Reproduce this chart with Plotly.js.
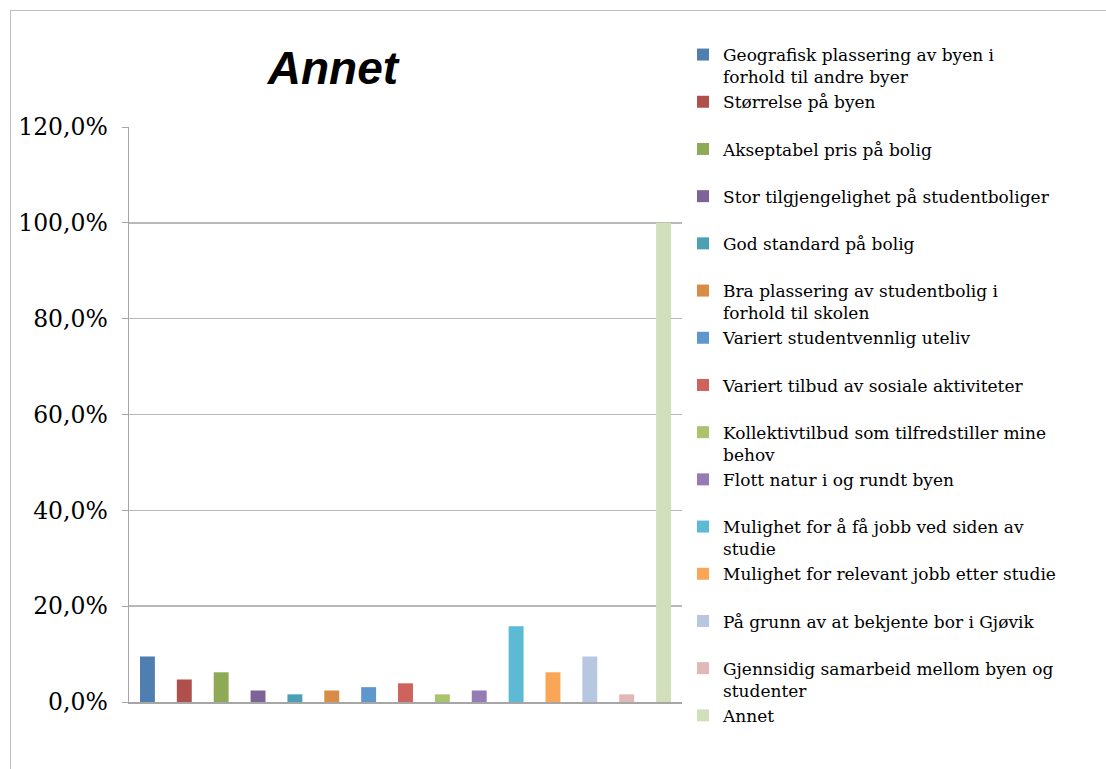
<!DOCTYPE html>
<html>
<head>
<meta charset="utf-8">
<script src="https://cdn.plot.ly/plotly-3.0.1.min.js"></script>
<style>
  html, body { margin: 0; padding: 0; background: #ffffff; }
  #chart { width: 1106px; height: 769px; position: relative; }
  #frame { position: absolute; left: 10px; top: 10px; width: 1200px; height: 800px;
           border-top: 1px solid #BFBFBF; border-left: 1px solid #BFBFBF; pointer-events: none; }
</style>
</head>
<body>
<div id="chart"></div>
<div id="frame"></div>
<script>
const chartTitle = "Annet";
const categories = [
  "Geografisk plassering av byen i<br>forhold til andre byer",
  "Størrelse på byen",
  "Akseptabel pris på bolig",
  "Stor tilgjengelighet på studentboliger",
  "God standard på bolig",
  "Bra plassering av studentbolig i<br>forhold til skolen",
  "Variert studentvennlig uteliv",
  "Variert tilbud av sosiale aktiviteter",
  "Kollektivtilbud som tilfredstiller mine<br>behov",
  "Flott natur i og rundt byen",
  "Mulighet for å få jobb ved siden av<br>studie",
  "Mulighet for relevant jobb etter studie",
  "På grunn av at bekjente bor i Gjøvik",
  "Gjennsidig samarbeid mellom byen og<br>studenter",
  "Annet"
];
const values = [9.5, 4.7, 6.2, 2.4, 1.6, 2.4, 3.1, 3.9, 1.6, 2.4, 15.8, 6.2, 9.5, 1.6, 100.0];
const colors = ["#4F7FB0", "#B0504C", "#8FAA56", "#7D6397", "#4BA0B6", "#D98C45", "#5E97CE",
                "#CE625D", "#A9C46C", "#967CB4", "#5CBAD4", "#F9A656", "#B8C7E1", "#E0B8B7", "#D1DFBA"];
const yTicks = [0, 20, 40, 60, 80, 100, 120];
const yTickText = ["0,0%", "20,0%", "40,0%", "60,0%", "80,0%", "100,0%", "120,0%"];

const traces = categories.map((name, i) => ({
  type: "bar",
  x: ["Annet"],
  y: [values[i]],
  name: name.indexOf("<br>") >= 0 ? name : name + "<br>&nbsp;",
  marker: { color: colors[i] },
  hoverinfo: "y+name"
}));

const layout = {
  width: 1106,
  height: 769,
  margin: { l: 129, r: 424, t: 127, b: 67 },
  paper_bgcolor: "#ffffff",
  plot_bgcolor: "#ffffff",
  barmode: "group",
  bargap: 0,
  bargroupgap: 0.595,
  title: {
    text: "<b><i>" + chartTitle + "</i></b>",
    font: { family: "Liberation Sans, Arial, sans-serif", size: 46, color: "#000000" },
    x: 0.301, xanchor: "center", xref: "container",
    y: 0.912, yanchor: "middle", yref: "container"
  },
  xaxis: {
    showticklabels: false,
    showline: true, linecolor: "#A6A6A6", linewidth: 2,
    ticks: "", showgrid: false, zeroline: false
  },
  yaxis: {
    range: [0, 120],
    tickmode: "array",
    tickvals: yTicks,
    ticktext: yTickText,
    showline: true, linecolor: "#A6A6A6", linewidth: 1.5,
    ticks: "outside", ticklen: 6, tickcolor: "#A6A6A6",
    ticklabelstandoff: 9,
    showgrid: true, gridcolor: "#B8B8B8", gridwidth: 1.5,
    zeroline: false,
    tickfont: { family: "DejaVu Serif, serif", size: 23.5, color: "#000000" }
  },
  showlegend: true,
  legend: {
    x: 1.0018, xanchor: "left", xref: "paper",
    y: 1.1565, yanchor: "top", yref: "paper",
    valign: "top",
    maxheight: 760,
    font: { family: "DejaVu Serif, serif", size: 17, color: "#000000" },
    bgcolor: "rgba(0,0,0,0)",
    itemclick: false, itemdoubleclick: false,
    traceorder: "normal"
  }
};

Plotly.newPlot("chart", traces, layout, { displayModeBar: false, staticPlot: true });
</script>
</body>
</html>
